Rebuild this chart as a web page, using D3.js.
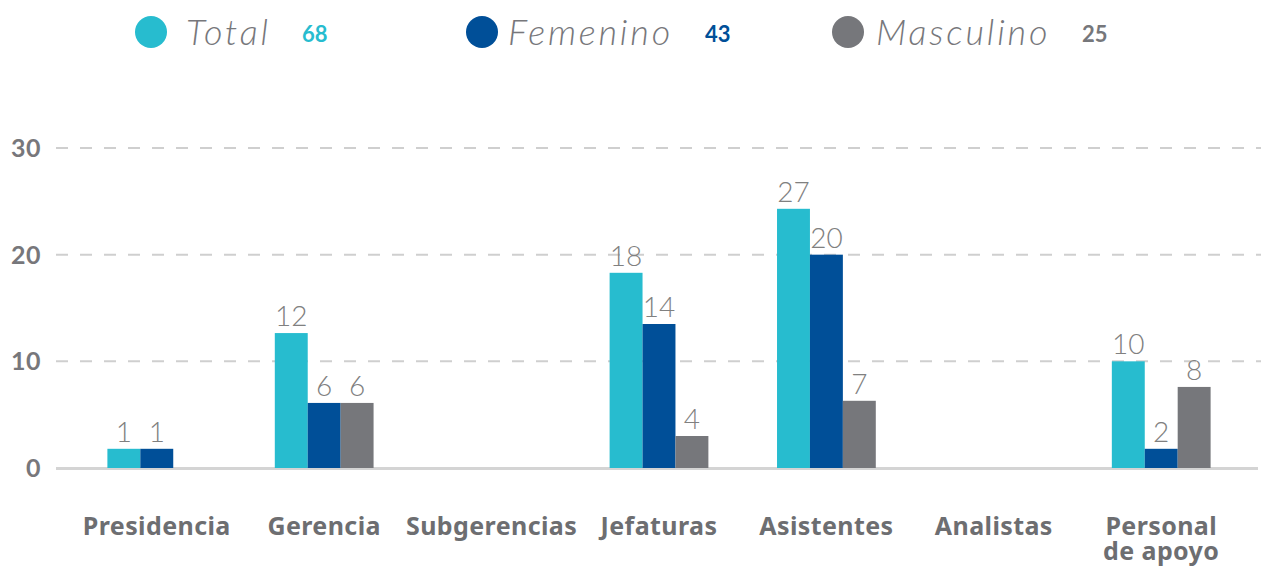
<!DOCTYPE html>
<html>
<head>
<meta charset="utf-8">
<script src="https://cdn.jsdelivr.net/npm/d3@7"></script>
<style>
  body { margin: 0; background: #fff; }
  svg { display: block; font-family: Lato, "Open Sans", sans-serif; }
</style>
</head>
<body>
<svg id="chart"></svg>
<script>
// categories and values
const categories = ["Presidencia", "Gerencia", "Subgerencias", "Jefaturas", "Asistentes", "Analistas", "Personal\nde apoyo"];
const series = ["Total", "Femenino", "Masculino"];
const seriesTotals = [68, 43, 25];

// printed labels
const totalLabels = [1, 12, null, 18, 27, null, 10];
const femLabels = [1, 6, null, 14, 20, null, 2];
const mascLabels = [null, 6, null, 4, 7, null, 8];

// bar heights as drawn (they do not always match the printed labels)
const totalBars = [1.8, 12.65, null, 18.3, 24.3, null, 10.0];
const femBars = [1.8, 6.1, null, 13.5, 20, null, 1.8];
const mascBars = [null, 6.1, null, 3.0, 6.3, null, 7.6];

const yTicks = [0, 10, 20, 30];

const colors = ["#27bccf", "#004f98", "#76777b"];

const svg = d3.select("#chart")
    .attr("width", 1261)
    .attr("height", 567);

const x0 = d3.scaleBand()
    .domain(categories)
    .range([56, 1262])
    .paddingInner(0.41)
    .paddingOuter(0.307);

const x1 = d3.scaleBand()
    .domain(series)
    .range([0, x0.bandwidth()]);

const y = d3.scaleLinear()
    .domain([0, 30])
    .range([468, 148]);

// grid lines
svg.append("g")
    .selectAll("line")
    .data(yTicks.filter(t => t > 0))
    .join("line")
    .attr("x1", 56)
    .attr("x2", 1261)
    .attr("y1", d => y(d))
    .attr("y2", d => y(d))
    .attr("stroke", "#cfcfcf")
    .attr("stroke-width", 2)
    .attr("stroke-dasharray", "12,12");

// baseline
svg.append("line")
    .attr("x1", 56)
    .attr("x2", 1258)
    .attr("y1", y(0) + 0.5)
    .attr("y2", y(0) + 0.5)
    .attr("stroke", "#d4d4d4")
    .attr("stroke-width", 3);

// y tick labels
svg.append("g")
    .selectAll("text")
    .data(yTicks)
    .join("text")
    .attr("x", 41)
    .attr("y", d => y(d) + 9)
    .attr("text-anchor", "end")
    .attr("font-size", 25)
    .attr("font-weight", "bold")
    .attr("letter-spacing", 0.5)
    .attr("fill", "#77777b")
    .text(d => d);

// bars
const barSets = [totalBars, femBars, mascBars];
const labelSets = [totalLabels, femLabels, mascLabels];

series.forEach((s, si) => {
    const rows = categories.map((c, i) => ({ cat: c, v: barSets[si][i], label: labelSets[si][i] }))
        .filter(d => d.v != null);

    svg.append("g")
        .selectAll("rect")
        .data(rows)
        .join("rect")
        .attr("x", d => x0(d.cat) + x1(s))
        .attr("y", d => y(d.v))
        .attr("width", x1.bandwidth())
        .attr("height", d => y(0) - y(d.v))
        .attr("fill", colors[si]);

    svg.append("g")
        .selectAll("text")
        .data(rows)
        .join("text")
        .attr("x", d => x0(d.cat) + x1(s) + x1.bandwidth() / 2)
        .attr("y", d => y(d.v) - 7)
        .attr("text-anchor", "middle")
        .attr("font-size", 28)
        .attr("font-weight", 300)
        .attr("fill", "#808080")
        .text(d => d.label);
});

// category labels
const catLabels = svg.append("g")
    .selectAll("text")
    .data(categories)
    .join("text")
    .attr("x", d => x0(d) + x0.bandwidth() / 2)
    .attr("y", 535)
    .attr("text-anchor", "middle")
    .attr("font-family", "'Noto Sans', sans-serif")
    .attr("font-size", 25)
    .attr("font-weight", "bold")
    .attr("letter-spacing", 0.4)
    .attr("fill", "#6d6e71");

catLabels.selectAll("tspan")
    .data(d => d.split("\n"))
    .join("tspan")
    .attr("x", function () { return d3.select(this.parentNode).attr("x"); })
    .attr("dy", (d, i) => i === 0 ? 0 : 25)
    .text(d => d);

// legend
const legendX = [151, 482, 848];
const legendTextDx = [35, 26, 28];
const legend = svg.append("g")
    .selectAll("g")
    .data(series)
    .join("g")
    .attr("transform", (d, i) => `translate(${legendX[i]},32)`);

legend.append("circle")
    .attr("r", 16)
    .attr("fill", (d, i) => colors[i]);

legend.append("text")
    .attr("x", (d, i) => legendTextDx[i])
    .attr("y", 13)
    .attr("font-size", 36)
    .attr("font-style", "italic")
    .attr("font-weight", 300)
    .attr("letter-spacing", 2.8)
    .attr("fill", "#77777b")
    .text(d => d);

legend.append("text")
    .attr("x", (d, i) => [151, 223, 234][i])
    .attr("y", 10)
    .attr("font-size", 22)
    .attr("font-weight", "bold")
    .attr("fill", (d, i) => colors[i])
    .text((d, i) => seriesTotals[i]);
</script>
</body>
</html>
